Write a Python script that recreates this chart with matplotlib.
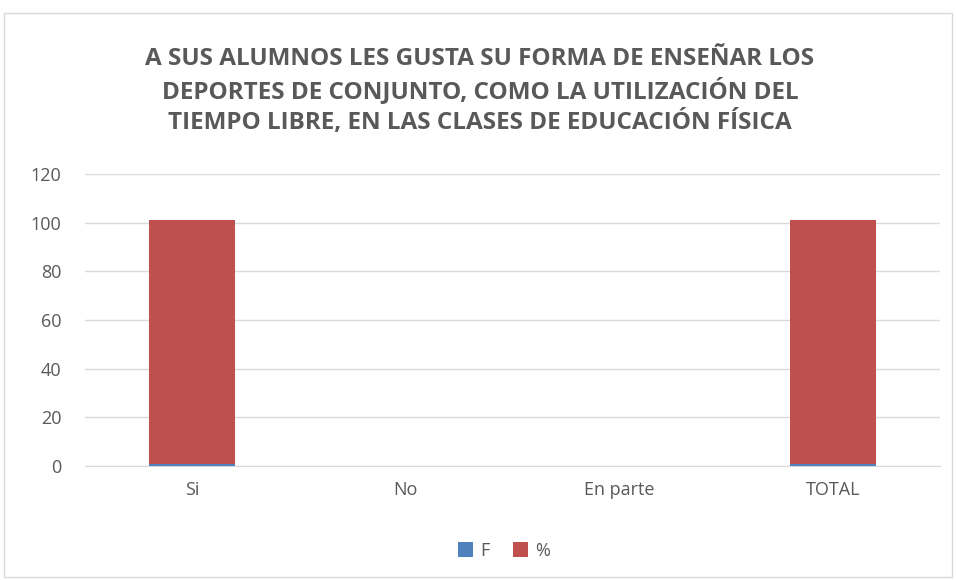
import matplotlib
matplotlib.use("Agg")
from matplotlib import pyplot as plt
from matplotlib.patches import Rectangle
import numpy as np

categories = ["Si", "No", "En parte", "TOTAL"]
f_vals = [1, 0, 0, 1]
pct_vals = [100, 0, 0, 100]
y_ticks = [0, 20, 40, 60, 80, 100, 120]
title = ("A SUS ALUMNOS LES GUSTA SU FORMA DE ENSEÑAR LOS\n"
         "DEPORTES DE CONJUNTO, COMO LA UTILIZACIÓN DEL\n"
         "TIEMPO LIBRE, EN LAS CLASES DE EDUCACIÓN FÍSICA")

plt.rcParams['font.family'] = ['Open Sans', 'DejaVu Sans']
grey = "#595959"

fig = plt.figure(figsize=(9.56, 5.8), dpi=100)
fig.patches.append(Rectangle((4/956, 3/580), 948/956, 564/580, transform=fig.transFigure,
                             fill=False, edgecolor="#D9D9D9", linewidth=1))

ax = fig.add_axes([85/956, 1-466/580, 855/956, 292/580])
x = np.arange(len(categories))
ax.bar(x, f_vals, width=0.4, color="#4F81BD", label="F", zorder=3)
ax.bar(x, pct_vals, width=0.4, bottom=f_vals, color="#C0504D", label="%", zorder=3)

ax.set_xlim(-0.5, len(categories) - 0.5)
ax.set_ylim(0, 120)
ax.set_yticks(y_ticks)
ax.set_xticks(x)
ax.set_xticklabels(categories)
ax.yaxis.grid(True, color="#D9D9D9", linewidth=1, zorder=0)
for s in ["top", "right", "left"]:
    ax.spines[s].set_visible(False)
ax.spines["bottom"].set_color("#D9D9D9")
ax.tick_params(axis="both", length=0, labelsize=13, colors=grey)
ax.tick_params(axis="y", pad=17)
ax.tick_params(axis="x", pad=11)

fig.text(480/956, 1-91/580, title, ha="center", va="center", fontsize=17.5,
         fontweight="bold", color=grey, linespacing=1.28)

ax.legend(loc="center", bbox_to_anchor=(0.49, -0.29), ncol=2, frameon=False,
          fontsize=13, labelcolor=grey, handlelength=0.85, handleheight=0.85,
          handletextpad=0.4, columnspacing=1.3)

fig.savefig("out.png", dpi=100)
